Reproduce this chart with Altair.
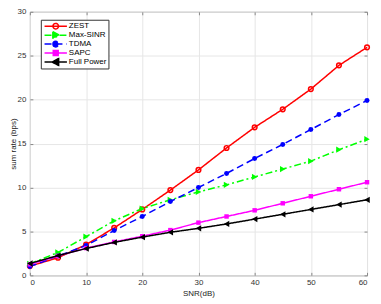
import altair as alt
import pandas as pd

snr = [0, 5, 10, 15, 20, 25, 30, 35, 40, 45, 50, 55, 60]
names = ["ZEST", "Max-SINR", "TDMA", "SAPC", "Full Power"]
zest = [1.05, 2.0, 3.5, 5.4, 7.5, 9.7, 12.0, 14.5, 16.85, 18.9, 21.2, 23.9, 25.95]
max_sinr = [1.3, 2.6, 4.4, 6.2, 7.6, 8.6, 9.5, 10.3, 11.2, 12.1, 13.0, 14.3, 15.5]
tdma = [1.0, 2.2, 3.4, 5.1, 6.7, 8.4, 10.0, 11.6, 13.3, 14.9, 16.6, 18.3, 19.9]
sapc = [1.25, 2.2, 3.1, 3.8, 4.45, 5.15, 6.0, 6.7, 7.4, 8.2, 9.0, 9.8, 10.6]
full_power = [1.35, 2.25, 3.05, 3.75, 4.35, 4.9, 5.35, 5.85, 6.4, 6.95, 7.5, 8.05, 8.6]
series_values = [zest, max_sinr, tdma, sapc, full_power]

x_ticks = [0, 10, 20, 30, 40, 50, 60]
y_ticks = [0, 5, 10, 15, 20, 25, 30]

colors = ["#ff0000", "#00ff00", "#0000ff", "#ff00ff", "#000000"]
fills = ["transparent", "#00ff00", "#0000ff", "#ff00ff", "#000000"]
dashes = [[1, 0], [7, 3, 2, 3], [7, 4], [1, 0], [1, 0]]
shapes = ["circle", "triangle-right", "circle", "square", "triangle-left"]
filled = [False, True, True, True, True]
sizes = [22, 40, 25, 20, 40]

# legend symbols: line segment plus marker (path units scaled by sqrt(size)/2)
circ = "M-0.62,0A0.62,0.62 0 1,0 0.62,0A0.62,0.62 0 1,0 -0.62,0Z"
seg = "M-2.5,0H2.5"
legend_paths = [
    seg + circ,
    seg + "M-0.65,-0.8L0.8,0L-0.65,0.8Z",
    seg + circ,
    seg + "M-0.55,-0.55H0.55V0.55H-0.55Z",
    seg + "M0.65,-0.8L-0.8,0L0.65,0.8Z",
]

rows = []
for name, vals in zip(names, series_values):
    for s, v in zip(snr, vals):
        rows.append({"series": name, "snr": s, "value": v})
df = pd.DataFrame(rows)

W, H = 339, 265
FONT = "Liberation Sans"
xs = alt.Scale(domain=[0, 60], nice=False, zero=False)
ys = alt.Scale(domain=[0, 30], nice=False, zero=False)

main_x = alt.Axis(orient="bottom", values=x_ticks, grid=True, gridColor="#e6e6e6",
                  ticks=False, domain=False, labelFontSize=8, labelColor="#333",
                  labelPadding=3, labelFont=FONT, title="SNR(dB)", titleFont=FONT,
                  titleFontSize=8, titleFontWeight="normal", titleColor="#222",
                  titlePadding=3)
main_y = alt.Axis(orient="left", values=y_ticks, grid=True, gridColor="#e6e6e6",
                  ticks=False, domain=False, labelFontSize=8, labelColor="#333",
                  labelPadding=4, labelFont=FONT, title="sum rate (bps)", titleFont=FONT,
                  titleFontSize=8, titleFontWeight="normal", titleColor="#222",
                  titlePadding=0)


def tick_axis(orient, offset, vals):
    return alt.Axis(orient=orient, offset=offset, values=vals, labels=False, domain=False,
                    grid=False, ticks=True, tickSize=3, tickColor="#888", title=None)


axes_for_layer = {
    0: (main_x, main_y),
    1: (tick_axis("top", -H, x_ticks), tick_axis("right", -W, y_ticks)),
    2: (tick_axis("bottom", -H, x_ticks), tick_axis("left", -W, y_ticks)),
}

layers = []
k = 0
for i, name in enumerate(names):
    base = alt.Chart(df).transform_filter(alt.datum.series == name)
    ax = axes_for_layer.get(k, (None, None))
    line = base.mark_line(color=colors[i], strokeWidth=1.5, strokeDash=dashes[i]).encode(
        x=alt.X("snr:Q", scale=xs, axis=ax[0]),
        y=alt.Y("value:Q", scale=ys, axis=ax[1]),
    )
    k += 1
    layers.append(line)
    ax = axes_for_layer.get(k, (None, None))
    pts = base.mark_point(shape=shapes[i], filled=filled[i], size=sizes[i],
                          color=colors[i], opacity=1,
                          strokeWidth=1.5 if not filled[i] else 0.5).encode(
        x=alt.X("snr:Q", scale=xs, axis=ax[0]),
        y=alt.Y("value:Q", scale=ys, axis=ax[1]),
    )
    k += 1
    layers.append(pts)

leg = alt.Legend(orient="none", legendX=11, legendY=8, title=None, symbolSize=81,
                 symbolStrokeWidth=1.5, symbolOffset=7.5, labelOffset=7.7, rowPadding=0,
                 clipHeight=9, padding=2, strokeColor="#333", fillColor="white",
                 labelFontSize=8, labelFont=FONT, labelColor="#000", symbolOpacity=1)

legend_layer = alt.Chart(df).transform_filter("false").mark_point(strokeWidth=1.5).encode(
    x=alt.X("snr:Q", scale=xs, axis=None),
    y=alt.Y("value:Q", scale=ys, axis=None),
    stroke=alt.Stroke("series:N", scale=alt.Scale(domain=names, range=colors), legend=leg),
    fill=alt.Fill("series:N", scale=alt.Scale(domain=names, range=fills), legend=leg),
    shape=alt.Shape("series:N", scale=alt.Scale(domain=names, range=legend_paths), legend=leg),
    strokeDash=alt.StrokeDash("series:N", scale=alt.Scale(domain=names, range=dashes), legend=leg),
)
layers.append(legend_layer)

chart = alt.layer(*layers).resolve_axis(x="independent", y="independent").properties(
    width=W, height=H,
    autosize=alt.AutoSizeParams(type="none"),
    padding={"left": 22, "top": 3, "right": 6, "bottom": 26},
    background="white",
).configure_view(stroke="#888", strokeWidth=1)

chart.save("out.html", embed_options={"renderer": "svg", "actions": False})
